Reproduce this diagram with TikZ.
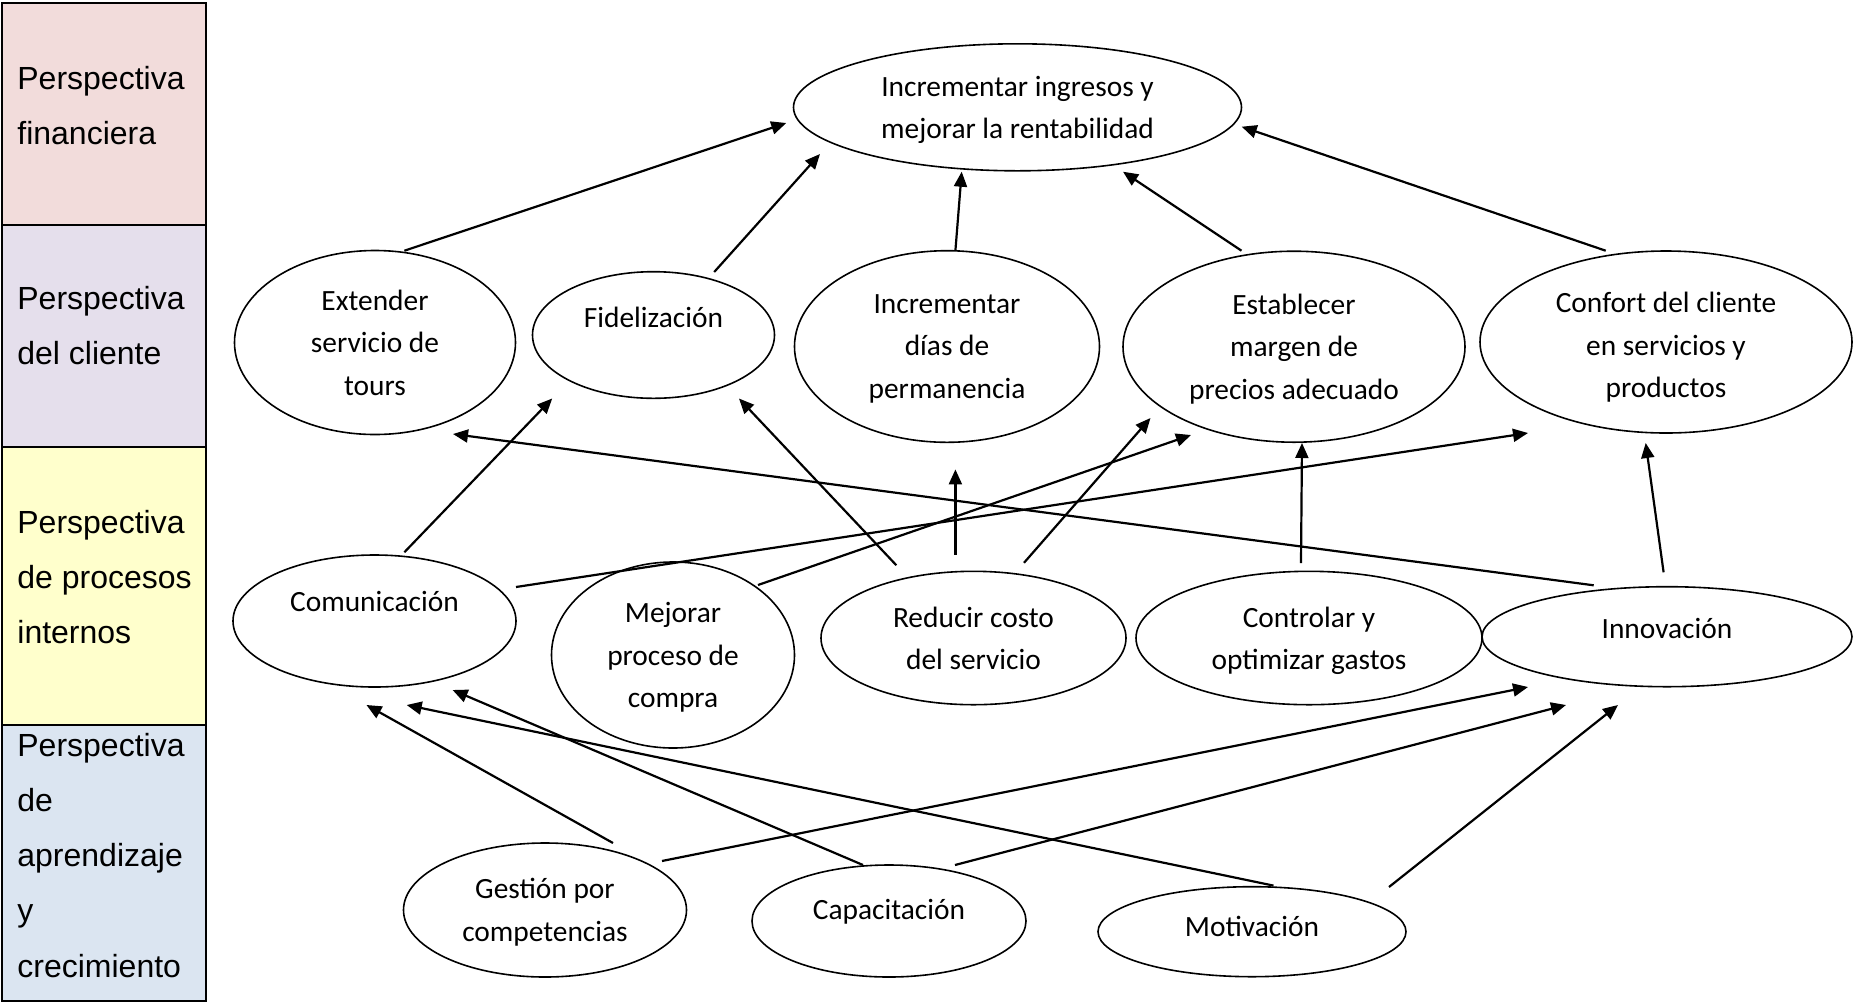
\documentclass[tikz,border=0pt]{standalone}
\usepackage{fontspec}
\setmainfont{Carlito}
\newfontfamily\arialf{Liberation Sans}
\usetikzlibrary{shapes.geometric,arrows.meta,calc}
\definecolor{finc}{HTML}{F2DCDB}
\definecolor{clic}{HTML}{E5DFEC}
\definecolor{proc}{HTML}{FFFFCC}
\definecolor{apre}{HTML}{DBE5F1}
\begin{document}
\begin{tikzpicture}[x=0.5pt,y=-0.5pt,
  obj/.style={draw, ellipse, line width=0.8pt, inner sep=0pt, align=center,
    font=\fontsize{14.7}{21.2}\selectfont},
  ml/.style={text depth=0pt},
  arr/.style={-{Triangle[length=7.5pt,width=6.5pt]}, line width=1.1pt},
  band/.style={draw, line width=1pt},
  lbl/.style={anchor=base west, inner sep=0pt, font=\arialf\fontsize{16}{27.65}\selectfont}]
\fill[white] (0,0) rectangle (1854,1003);
\useasboundingbox (0,0) rectangle (1854,1003);
% perspective bands
\path[band, fill=finc] (2,3) rectangle (206,225);
\path[band, fill=clic] (2,225) rectangle (206,447);
\path[band, fill=proc] (2,447) rectangle (206,725);
\path[band, fill=apre] (2,725) rectangle (206,1001);
\node[lbl] (lf) at (17,89) {\vtop{\hbox{Perspectiva}\hbox{financiera}}};
\node[lbl] (lc) at (17,309) {\vtop{\hbox{Perspectiva}\hbox{del cliente}}};
\node[lbl] (lp) at (17,533) {\vtop{\hbox{Perspectiva}\hbox{de procesos}\hbox{internos}}};
\node[lbl] (la) at (17,756) {\vtop{\hbox{Perspectiva}\hbox{de}\hbox{aprendizaje}\hbox{y}\hbox{crecimiento}}};
% objectives
\node[obj, ml, minimum width=224pt, minimum height=63.5pt] (inc) at (1017.5,107.3) {Incrementar ingresos y\\mejorar la rentabilidad};
\node[obj, ml, minimum width=140.5pt, minimum height=92pt] (ext) at (375,342.5) {Extender\\servicio de\\tours};
\node[obj, minimum width=121pt, minimum height=63.3pt] (fid) at (653.5,335) {\raisebox{9pt}[\height][\depth]{Fidelización}};
\node[obj, ml, minimum width=152.5pt, minimum height=95.8pt] (dias) at (947,346.5) {Incrementar\\días de\\permanencia};
\node[obj, ml, minimum width=171pt, minimum height=95.5pt] (est) at (1294,346.7) {Establecer\\margen de\\precios adecuado};
\node[obj, ml, minimum width=186pt, minimum height=91pt] (conf) at (1666,342) {\raisebox{-1.5pt}[\height][\depth]{Confort del cliente}\\\raisebox{-1.5pt}[\height][\depth]{en servicios y}\\\raisebox{-1.5pt}[\height][\depth]{productos}};
\node[obj, minimum width=141.5pt, minimum height=66pt] (com) at (374.5,621) {\raisebox{10pt}[\height][\depth]{Comunicación}};
\node[obj, ml, minimum width=121.5pt, minimum height=93pt] (mej) at (673,655) {Mejorar\\proceso de\\compra};
\node[obj, ml, minimum width=152.5pt, minimum height=66.7pt] (red) at (973.5,638) {Reducir costo\\del servicio};
\node[obj, ml, minimum width=173pt, minimum height=66.7pt] (ctl) at (1309,638) {Controlar y\\optimizar gastos};
\node[obj, minimum width=185pt, minimum height=50pt] (inn) at (1667,636.7) {\raisebox{4pt}[\height][\depth]{Innovación}};
\node[obj, ml, minimum width=141.5pt, minimum height=67pt] (ges) at (545,910) {Gestión por\\competencias};
\node[obj, minimum width=137pt, minimum height=56pt] (cap) at (889,921) {\raisebox{4.5pt}[\height][\depth]{Capacitación}};
\node[obj, minimum width=154pt, minimum height=45pt] (mot) at (1252,931.7) {\raisebox{2.5pt}[\height][\depth]{Motivación}};
% connectors
\draw[arr] ($(ext)+(29.4,-91.8)$) -- ($(inc)+(-231.2,15.7)$);
\draw[arr] ($(fid)+(60.7,-63)$) -- ($(inc)+(-197.5,46.7)$);
\draw[arr] ($(dias)+(8.4,-95.8)$) -- ($(inc)+(-55.8,64.4)$);
\draw[arr] ($(est)+(-52.5,-96)$) -- ($(inc)+(105.5,64.4)$);
\draw[arr] ($(conf)+(-60.3,-91.3)$) -- ($(inc)+(224.2,19.4)$);
\draw[arr] ($(com)+(29.9,-68.8)$) -- ($(fid)+(-101.3,63.5)$);
\draw[arr] ($(red)+(-77.2,-72.8)$) -- ($(fid)+(85.5,63.5)$);
\draw[arr] ($(inn)+(-73.3,-51.4)$) -- ($(ext)+(78,91.5)$);
\draw[arr] ($(com)+(141.5,-34)$) -- ($(conf)+(-138,91)$);
\draw[arr] ($(mej)+(85,-70)$) -- ($(est)+(-103,88.3)$);
\draw[arr] ($(red)+(-18.1,-83.5)$) -- ($(dias)+(8.4,122.9)$);
\draw[arr] ($(red)+(50.5,-75.2)$) -- ($(est)+(-143.5,71.3)$);
\draw[arr] ($(ctl)+(-8,-75)$) -- ($(est)+(8,96.3)$);
\draw[arr] ($(inn)+(-3.4,-64.4)$) -- ($(conf)+(-20.3,101)$);
\draw[arr] ($(ges)+(68,-67)$) -- ($(com)+(-8,84)$);
\draw[arr] ($(cap)+(-26,-56)$) -- ($(com)+(78.1,69)$);
\draw[arr] ($(mot)+(21.5,-46.1)$) -- ($(com)+(32.2,84)$);
\draw[arr] ($(ges)+(117,-49)$) -- ($(inn)+(-139,50.3)$);
\draw[arr] ($(cap)+(66,-56)$) -- ($(inn)+(-101,68.3)$);
\draw[arr] ($(mot)+(137,-44.7)$) -- ($(inn)+(-49,68.3)$);
\end{tikzpicture}
\end{document}
